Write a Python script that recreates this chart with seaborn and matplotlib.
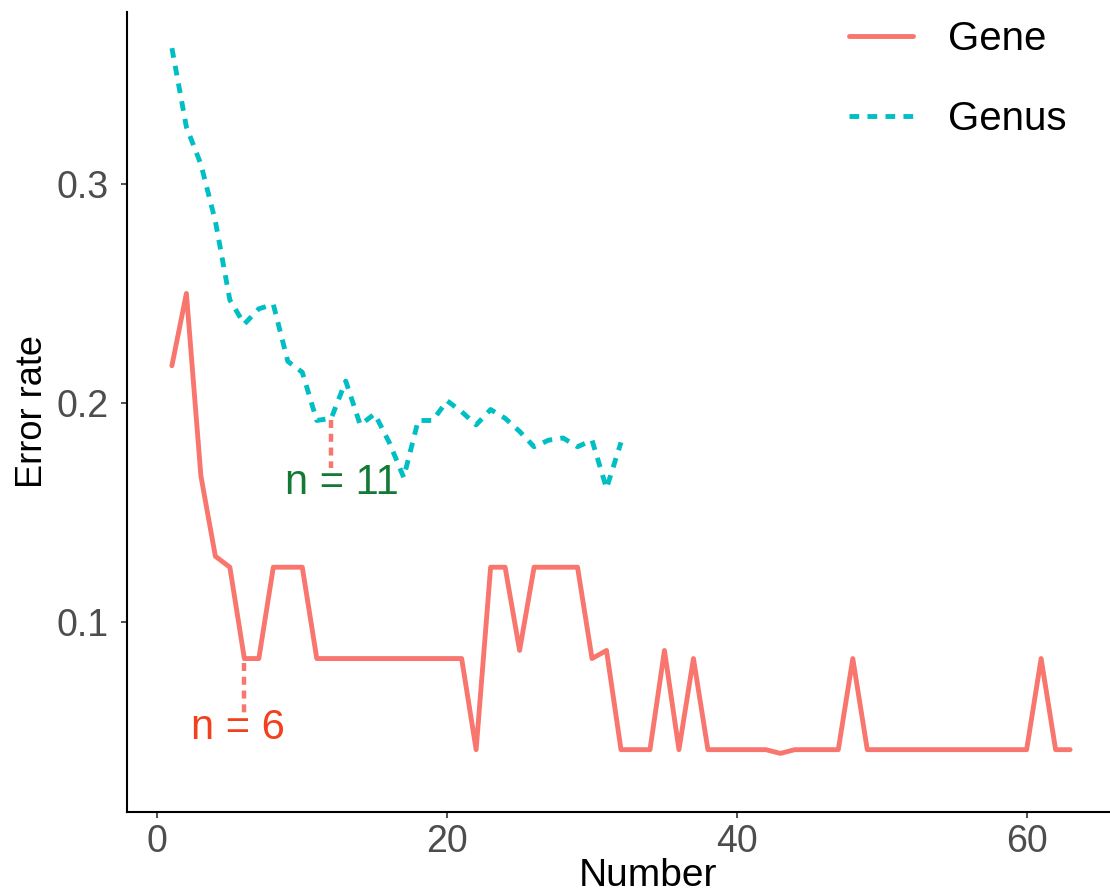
import numpy as np
import pandas as pd
import seaborn as sns
import matplotlib.pyplot as plt

# ----------------------------------------------------
# data
# ----------------------------------------------------
GENE_ERR = [0.217, 0.25, 0.1667, 0.13, 0.125, 0.0833, 0.0833, 0.125, 0.125, 0.125,
            0.0833, 0.0833, 0.0833, 0.0833, 0.0833, 0.0833, 0.0833, 0.0833, 0.0833, 0.0833,
            0.0833, 0.0417, 0.125, 0.125, 0.087, 0.125, 0.125, 0.125, 0.125, 0.0833,
            0.087, 0.0417, 0.0417, 0.0417, 0.087, 0.0417, 0.0833, 0.0417, 0.0417, 0.0417,
            0.0417, 0.0417, 0.04, 0.0417, 0.0417, 0.0417, 0.0417, 0.0833, 0.0417, 0.0417,
            0.0417, 0.0417, 0.0417, 0.0417, 0.0417, 0.0417, 0.0417, 0.0417, 0.0417, 0.0417,
            0.0833, 0.0417, 0.0417]
GENUS_ERR = [0.362, 0.326, 0.309, 0.283, 0.247, 0.236, 0.243, 0.245, 0.219, 0.214,
             0.192, 0.193, 0.210, 0.190, 0.195, 0.182, 0.166, 0.192, 0.192, 0.201,
             0.196, 0.190, 0.197, 0.193, 0.187, 0.180, 0.183, 0.184, 0.180, 0.183,
             0.161, 0.182]
GROUPS = ["Gene", "Genus"]

# cut-off markers: (x, y_from, y_to, label, label_x, label_y)
GENE_CUT = (6, 0.0813, 0.0584, "n = 6", 5.55, 0.0516)
GENUS_CUT = (12, 0.1922, 0.1703, "n = 11", 12.7, 0.1635)

df = pd.concat([
    pd.DataFrame({"Number": np.arange(1, len(GENE_ERR) + 1), "Error rate": GENE_ERR, "group": "Gene"}),
    pd.DataFrame({"Number": np.arange(1, len(GENUS_ERR) + 1), "Error rate": GENUS_ERR, "group": "Genus"}),
])

# ----------------------------------------------------
# plot
# ----------------------------------------------------
sns.set_style("white")
plt.rcParams["font.family"] = ["Liberation Sans", "DejaVu Sans"]

fig = plt.figure(figsize=(11.1, 8.94), dpi=100)
ax = fig.add_axes([127 / 1110, 82 / 894, 988 / 1110, 800 / 894])

sns.lineplot(data=df, x="Number", y="Error rate", hue="group", style="group",
             palette={"Gene": "#F8766D", "Genus": "#00BFC4"},
             dashes={"Gene": "", "Genus": (2.0, 1.7)},
             linewidth=3.5, ax=ax)

for cx, y0, y1, txt, tx, ty in [GENE_CUT, GENUS_CUT]:
    ax.plot([cx, cx], [y0, y1], color="#F8766D", lw=3.2, ls=(0, (1.8, 1.3)))

ax.text(GENE_CUT[4], GENE_CUT[5], GENE_CUT[3], color="#F2401E", fontsize=30,
        ha="center", va="center")
ax.text(GENUS_CUT[4], GENUS_CUT[5], GENUS_CUT[3], color="#137A35", fontsize=30,
        ha="center", va="center")

ax.set_xlim(-2.1, 66.1)
ax.set_ylim(0.01324, 0.3785)
ax.set_xticks([0, 20, 40, 60])
ax.set_yticks([0.1, 0.2, 0.3])
ax.set_yticklabels(["0.1", "0.2", "0.3"])
ax.tick_params(axis="both", labelsize=27, labelcolor="#4D4D4D", color="#333333",
               length=4.5, width=1.2, bottom=True, left=True)
ax.tick_params(axis="x", pad=4)
ax.tick_params(axis="y", pad=9)

sns.despine(ax=ax)
for side in ["left", "bottom"]:
    ax.spines[side].set_color("black")
    ax.spines[side].set_linewidth(1.5)

ax.set_xlabel("Number", fontsize=28, color="black")
ax.set_ylabel("Error rate", fontsize=26, color="black")
ax.xaxis.set_label_coords(0.527, -0.058)
ax.yaxis.set_label_coords(-0.078, 0.5)

handles, labels = ax.get_legend_handles_labels()
keep = [(h, l) for h, l in zip(handles, labels) if l in GROUPS]
leg = ax.legend([h for h, _ in keep], [l for _, l in keep],
                loc="upper left", bbox_to_anchor=(849 / 1110, 0.978),
                bbox_transform=fig.transFigure, frameon=False, fontsize=29,
                handlelength=1.6, handletextpad=0.85, labelspacing=1.06,
                borderpad=0, borderaxespad=0)
for t in leg.get_texts():
    t.set_color("black")
for h in leg.get_lines():
    h.set_linewidth(3.5)

fig.savefig("out.png", dpi=100)
